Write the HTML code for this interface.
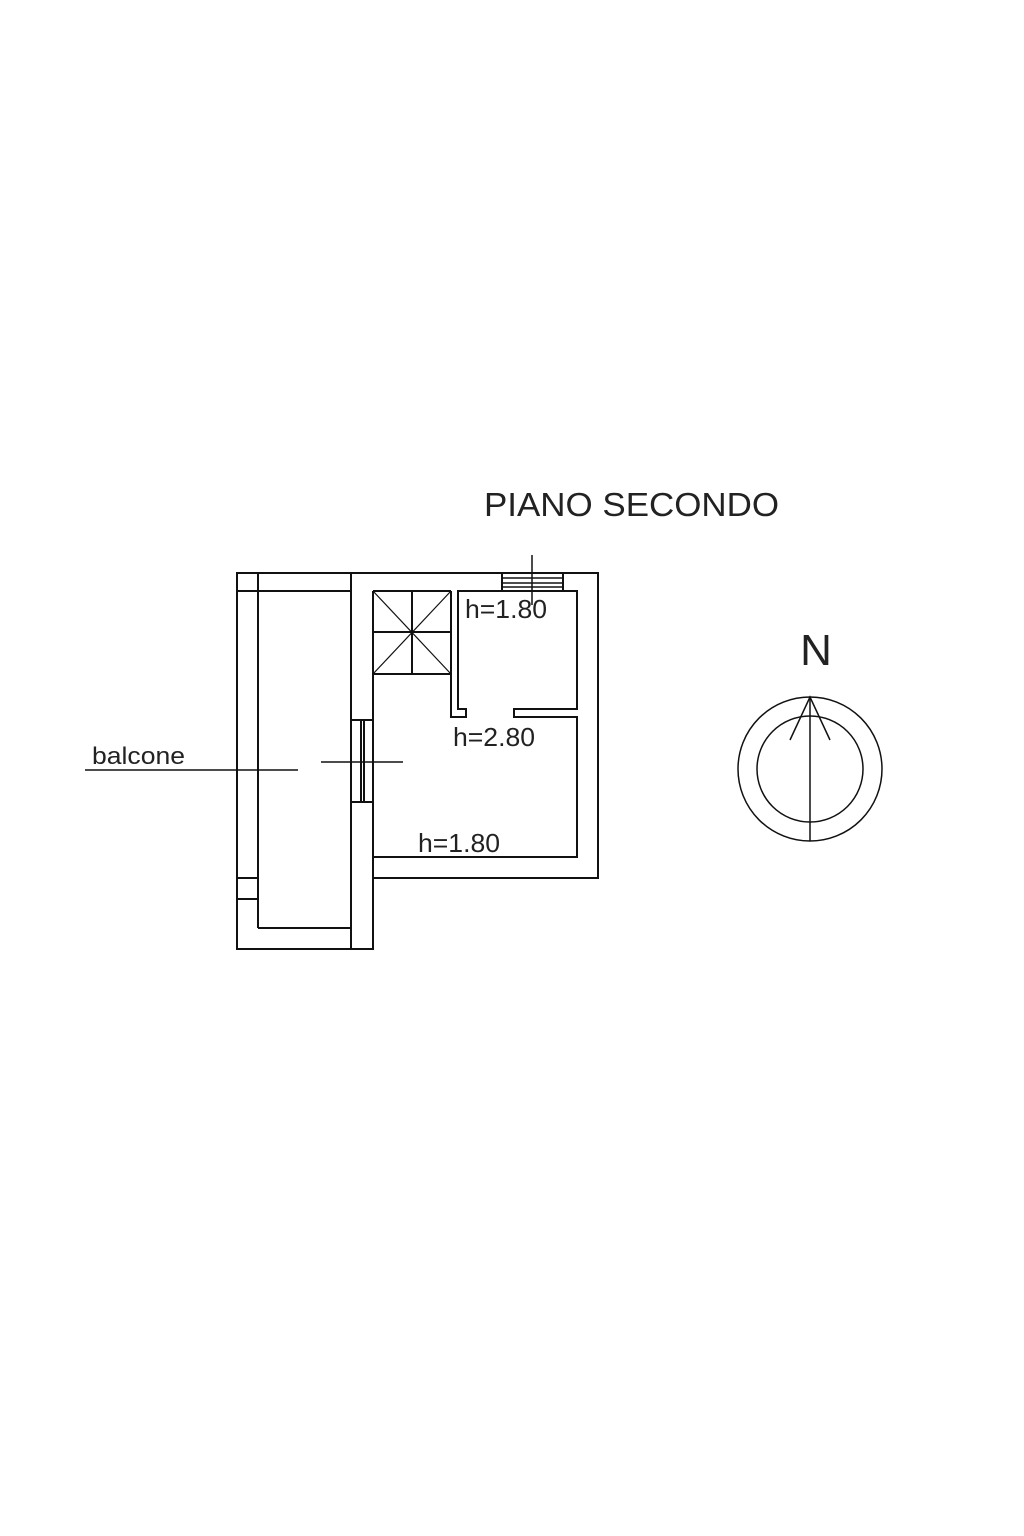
<!DOCTYPE html>
<html><head><style>body{margin:0;background:#fff}svg{display:block}</style></head><body>
<svg width="1024" height="1536" viewBox="0 0 1024 1536" xmlns="http://www.w3.org/2000/svg">
<g stroke="#111" stroke-width="2" fill="none">
<polyline points="351,573 237,573 237,949 373,949 373,802"/>
<line x1="258" y1="573" x2="258" y2="928"/>
<line x1="237" y1="591" x2="351" y2="591"/>
<line x1="237" y1="878" x2="258" y2="878"/>
<line x1="237" y1="899" x2="258" y2="899"/>
<polyline points="258,928 351,928"/>
<line x1="351" y1="573" x2="351" y2="949"/>
<polyline points="351,573 598,573 598,878 373,878"/>
<line x1="373" y1="591" x2="373" y2="720"/>
<rect x="351" y="720" width="22" height="82"/>
<line x1="361" y1="720" x2="361" y2="802"/>
<line x1="364" y1="720" x2="364" y2="802"/>
<line x1="373" y1="591" x2="451" y2="591"/>
<polyline points="373,857 577,857 577,717 514,717 514,709 577,709 577,591 458,591 458,709 466,709 466,717 451,717 451,591"/>
<line x1="373" y1="674" x2="451" y2="674"/>
<line x1="373" y1="632" x2="451" y2="632"/>
<line x1="412" y1="591" x2="412" y2="674"/>
<line x1="373" y1="591" x2="451" y2="674" stroke-width="1.2"/>
<line x1="451" y1="591" x2="373" y2="674" stroke-width="1.2"/>
<rect x="502" y="573" width="61" height="18"/>
<line x1="502" y1="578" x2="563" y2="578" stroke-width="1.5"/>
<line x1="502" y1="583" x2="563" y2="583" stroke-width="1.5"/>
<line x1="502" y1="587" x2="563" y2="587" stroke-width="1.5"/>
<line x1="532" y1="555" x2="532" y2="605" stroke-width="1.5"/>
<line x1="85" y1="770" x2="298" y2="770" stroke-width="1.5"/>
<line x1="321" y1="762" x2="403" y2="762" stroke-width="1.5"/>
<circle cx="810" cy="769" r="72" stroke-width="1.5"/>
<circle cx="810" cy="769" r="53" stroke-width="1.5"/>
<line x1="810" y1="697" x2="810" y2="841" stroke-width="1.5"/>
<polyline points="790,740 810,697 830,740" stroke-width="1.5"/>
</g>
<g font-family="Liberation Sans, sans-serif" fill="#222">
<text x="484" y="516" font-size="33" textLength="295" lengthAdjust="spacingAndGlyphs">PIANO SECONDO</text>
<text x="465" y="618" font-size="26" textLength="82" lengthAdjust="spacingAndGlyphs">h=1.80</text>
<text x="453" y="746" font-size="26" textLength="82" lengthAdjust="spacingAndGlyphs">h=2.80</text>
<text x="418" y="852" font-size="26" textLength="82" lengthAdjust="spacingAndGlyphs">h=1.80</text>
<text x="92" y="764" font-size="24" textLength="93" lengthAdjust="spacingAndGlyphs">balcone</text>
<text x="816" y="665" font-size="44" text-anchor="middle">N</text>
</g>
</svg>
</body></html>
